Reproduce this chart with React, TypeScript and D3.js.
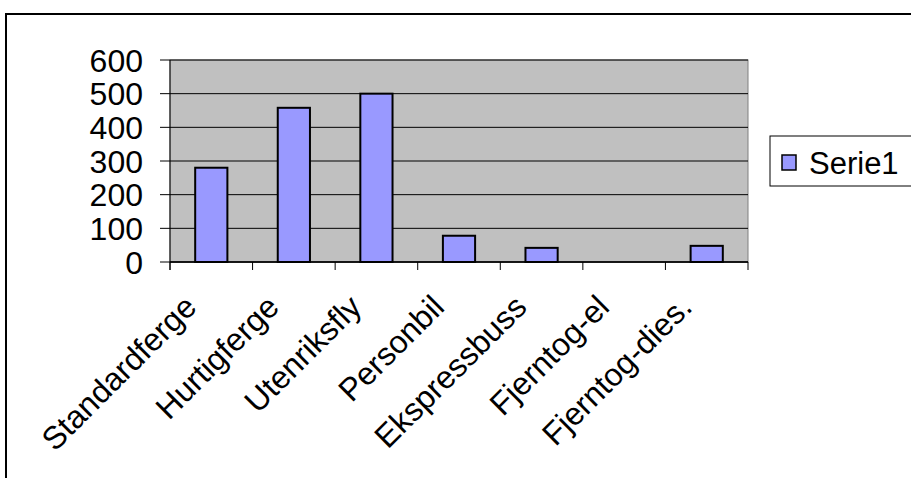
import React from "react";
import * as d3 from "d3";

const categories = ["Standardferge", "Hurtigferge", "Utenriksfly", "Personbil", "Ekspressbuss", "Fjerntog-el", "Fjerntog-dies."];
const values = [280, 458, 500, 78, 42, 0, 48];
const yTicks = [0, 100, 200, 300, 400, 500, 600];
const seriesName = "Serie1";

const W = 911, H = 478;
const plot = { left: 170, right: 748, top: 60, bottom: 262 };
const FONT = "Arial, 'Liberation Sans', sans-serif";
const FS = 32;

export default function App() {
  const x = d3.scaleBand<string>().domain(categories).range([plot.left, plot.right]).paddingInner(0).paddingOuter(0);
  const y = d3.scaleLinear().domain([0, 600]).range([plot.bottom, plot.top]);
  const bw = x.bandwidth() * 0.39;
  const boundaries = d3.range(categories.length + 1).map((i) => plot.left + i * x.step());

  return (
    <svg width={W} height={H} style={{ position: "absolute", left: 0, top: 0, display: "block" }} fontFamily={FONT}>
      <rect x={0} y={0} width={W} height={H} fill="#fff" />
      <rect x={6} y={14} width={W + 20} height={H + 20} fill="none" stroke="#000" strokeWidth={2} />
      <rect x={plot.left} y={plot.top} width={plot.right - plot.left} height={plot.bottom - plot.top} fill="#C0C0C0" stroke="#808080" strokeWidth={1} />
      {yTicks.map((t) => (
        <g key={t}>
          <line x1={plot.left - 10} x2={plot.right} y1={y(t)} y2={y(t)} stroke="#000" strokeWidth={1} />
          <text x={143} y={y(t)} dy="0.36em" textAnchor="end" fontSize={FS} fill="#000">{t}</text>
        </g>
      ))}
      <line x1={plot.left} x2={plot.left} y1={plot.top} y2={plot.bottom + 8} stroke="#000" strokeWidth={1} />
      {boundaries.map((b, i) => (
        <line key={i} x1={b} x2={b} y1={plot.bottom} y2={plot.bottom + 8} stroke="#000" strokeWidth={1} />
      ))}
      {categories.map((c, i) => {
        const cx = (x(c) as number) + x.bandwidth() / 2;
        const h = y(0) - y(values[i]);
        return h > 0 ? (
          <rect key={c} x={cx - bw / 2} y={y(values[i])} width={bw} height={h} fill="#9999FF" stroke="#000" strokeWidth={2} />
        ) : null;
      })}
      <line x1={plot.left} x2={plot.right} y1={plot.bottom} y2={plot.bottom} stroke="#000" strokeWidth={1.5} />
      {categories.map((c) => {
        const cx = (x(c) as number) + x.bandwidth() / 2;
        return (
          <text key={c} transform={`translate(${cx - 13},${plot.bottom + 47}) rotate(-45)`} textAnchor="end" fontSize={FS} fill="#000">{c}</text>
        );
      })}
      <rect x={770} y={136} width={150} height={50} fill="#fff" stroke="#000" strokeWidth={1} />
      <rect x={782} y={155} width={14} height={15} fill="#9999FF" stroke="#000" strokeWidth={1.5} />
      <text x={809} y={163} dy="0.36em" fontSize={31} fill="#000">{seriesName}</text>
    </svg>
  );
}
